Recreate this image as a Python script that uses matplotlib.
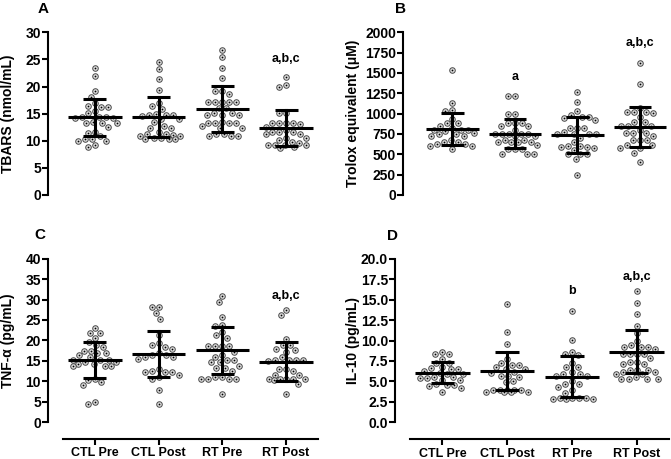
import numpy as np
import matplotlib.pyplot as plt

plt.rcParams['font.family'] = ['Liberation Sans', 'DejaVu Sans']
plt.rcParams['font.weight'] = 'bold'

groups = ['CTL Pre', 'CTL Post', 'RT Pre', 'RT Post']

# Panel A - TBARS
tbars_ctl_pre = [23.4, 21.9, 19.2, 18.1, 17.0, 16.4, 16.3, 16.2, 15.4, 15.1, 14.3, 14.3, 14.3, 14.2, 14.2,
                 13.5, 13.3, 13.3, 13.2, 12.6, 11.6, 11.5, 10.8, 10.4, 10.3, 10.0, 10.0, 9.2, 8.9]
tbars_ctl_post = [24.6, 23.3, 21.3, 19.4, 17.0, 16.5, 15.8, 15.0, 14.8, 14.7, 14.7, 14.6, 14.0, 14.0, 13.5,
                  12.8, 12.4, 12.4, 11.6, 11.2, 11.2, 11.1, 10.8, 10.8, 10.6, 10.5, 10.4, 10.4, 10.3]
tbars_rt_pre = [26.7, 25.4, 23.4, 21.5, 19.2, 19.2, 18.7, 17.2, 17.2, 17.2, 17.2, 17.1, 16.0, 16.0, 15.2, 15.2,
                14.8, 14.8, 14.8, 13.5, 13.2, 13.2, 13.2, 13.2, 12.7, 12.3, 12.3, 11.2, 11.2, 10.8, 10.8, 10.8]
tbars_rt_post = [21.8, 20.2, 19.9, 15.1, 15.1, 13.3, 13.2, 13.2, 13.2, 13.1, 12.6, 12.0, 11.7, 11.7, 11.7,
                 11.2, 11.2, 10.6, 10.6, 10.2, 9.8, 9.5, 9.3, 9.2, 9.2, 9.2, 8.8, 8.6]
tbars_mean = [14.3, 14.4, 15.9, 12.3]
tbars_sd = [3.4, 3.7, 4.2, 3.35]

# Panel B - Trolox equivalent
trolox_ctl_pre = [1540, 1130, 1040, 1030, 940, 880, 880, 850, 820, 800, 800, 800, 790, 760, 750, 750, 720, 720,
                  680, 650, 650, 630, 630, 600, 600, 560]
trolox_ctl_post = [1215, 1215, 1000, 1000, 890, 890, 890, 850, 850, 800, 750, 750, 750, 750, 750, 720, 720,
                   680, 680, 650, 650, 650, 650, 620, 560, 560, 560, 510, 500, 500]
trolox_rt_pre = [1270, 1140, 1030, 980, 960, 960, 950, 920, 820, 820, 820, 780, 750, 750, 750, 750, 700, 650,
                 600, 600, 590, 590, 580, 550, 510, 500, 500, 440, 240]
trolox_rt_post = [1620, 1360, 1070, 1020, 1020, 1020, 1010, 960, 900, 900, 850, 850, 850, 800, 760, 760, 760,
                  720, 670, 670, 670, 610, 610, 580, 580, 520, 400]
trolox_mean = [811, 754, 742, 836]
trolox_sd = [200, 180, 222, 250]

# Panel C - TNF-alpha
tnf_ctl_pre = [23.1, 21.8, 21.8, 20.6, 19.5, 18.8, 18.3, 17.5, 17.5, 16.8, 16.8, 16.3, 15.8, 15.2, 15.2, 15.2,
               14.6, 14.6, 14.2, 14.2, 13.8, 13.8, 13.8, 10.6, 10.2, 9.7, 9.0, 4.8, 4.3]
tnf_ctl_post = [28.2, 28.2, 26.6, 25.2, 21.2, 19.4, 18.8, 18.4, 18.0, 17.0, 16.5, 16.5, 16.0, 16.0, 15.5,
                12.9, 12.6, 12.2, 12.2, 12.2, 11.4, 11.0, 10.5, 7.9, 4.3]
tnf_rt_pre = [30.9, 29.4, 25.8, 23.8, 23.4, 22.0, 21.2, 20.6, 18.6, 18.6, 18.6, 18.6, 17.2, 16.4, 16.0, 15.2,
              15.2, 14.6, 14.6, 13.8, 13.2, 13.2, 12.6, 11.0, 11.0, 10.5, 10.5, 10.5, 10.5, 6.9]
tnf_rt_post = [27.4, 26.3, 20.3, 18.8, 18.8, 18.0, 17.6, 17.2, 15.8, 15.2, 15.2, 15.2, 15.2, 14.9, 13.0, 13.0,
               12.5, 11.6, 11.6, 10.6, 10.6, 10.6, 10.6, 10.6, 10.3, 9.3, 6.8]
tnf_mean = [15.3, 16.7, 17.6, 14.8]
tnf_sd = [4.4, 5.7, 5.75, 4.7]

# Panel D - IL-10
il10_ctl_pre = [8.6, 8.3, 8.3, 7.7, 7.3, 7.3, 6.8, 6.6, 6.5, 6.5, 6.3, 6.0, 5.9, 5.9, 5.5, 5.5, 5.4, 5.4,
                5.2, 5.2, 4.7, 4.6, 4.6, 4.4, 4.2, 3.7]
il10_ctl_post = [14.5, 11.0, 9.6, 7.7, 7.3, 7.0, 7.0, 6.7, 6.5, 6.5, 6.2, 6.0, 5.7, 5.7, 5.5, 5.0, 4.9,
                 3.9, 3.9, 3.9, 3.9, 3.9, 3.7, 3.7, 3.7, 3.7]
il10_rt_pre = [13.6, 10.1, 8.6, 8.4, 8.2, 7.2, 6.7, 6.7, 6.2, 5.9, 5.9, 5.6, 5.6, 5.0, 4.7, 4.7, 4.3, 3.9,
               3.6, 3.0, 3.0, 3.0, 3.0, 2.8, 2.8, 2.8]
il10_rt_post = [16.1, 14.6, 13.2, 11.8, 10.9, 9.9, 9.4, 9.2, 9.2, 9.2, 8.9, 8.3, 8.3, 8.3, 8.3, 7.8, 7.4,
                7.4, 7.1, 7.1, 6.4, 6.4, 6.4, 6.1, 6.1, 5.9, 5.9, 5.5, 5.3, 5.3, 5.3, 5.3]
il10_mean = [6.07, 6.27, 5.58, 8.64]
il10_sd = [1.26, 2.35, 2.5, 2.65]

W, H = 671, 459
fig = plt.figure(figsize=(W / 100, H / 100), dpi=100)


def swarm(vals, xpx, ypx, d=7.0, half=22.0):
    # beeswarm limited to +-half px: best spacing, then closest to centre
    vals = np.asarray(vals, dtype=float)
    order = np.argsort(-vals)
    ys = vals * ypx
    grid = np.arange(-half, half + 0.01, 0.5)
    px_list, py_list = [], []
    offs = np.zeros(len(vals))
    for i in order:
        y = ys[i]
        if px_list:
            pxa = np.array(px_list)
            pya = np.array(py_list)
            dist = np.sqrt((grid[:, None] - pxa[None, :]) ** 2 + (y - pya[None, :]) ** 2).min(axis=1)
            score = np.minimum(dist, d) - 0.001 * np.abs(grid)
            c = grid[np.argmax(score)]
        else:
            c = 0.0
        px_list.append(c)
        py_list.append(y)
        offs[i] = c / xpx
    return offs


def panel(rect_px, data, means, sds, ymax, ystep, fmt, ylabel, label_x, letter, letter_pos,
          notes, show_x, left_off):
    l, r, top, bot = rect_px
    ax = fig.add_axes([l / W, 1 - bot / H, (r - l) / W, (bot - top) / H])
    ax.set_xlim(-0.5, 3.5)
    ax.set_ylim(0, ymax)
    xpx = (r - l) / 4
    ypx = (bot - top) / ymax
    for i, vals in enumerate(data):
        offs = swarm(vals, xpx, ypx)
        ax.scatter(i + offs, vals, s=16, facecolor='#dcdcdc', edgecolor='#4a4a4a',
                   linewidth=0.7, zorder=2, clip_on=False)
        ax.scatter(i + offs, vals, s=1.6, color='black', zorder=3, clip_on=False, linewidth=0)
        m, sd = means[i], sds[i]
        ax.plot([i - 0.42, i + 0.42], [m, m], color='black', lw=2.2, zorder=4, solid_capstyle='butt')
        ax.plot([i, i], [m - sd, m + sd], color='black', lw=2.2, zorder=4)
        for yy in (m - sd, m + sd):
            ax.plot([i - 0.18, i + 0.18], [yy, yy], color='black', lw=2.2, zorder=4,
                    solid_capstyle='butt')
    for gi, txt, yv in notes:
        ax.text(gi, yv, txt, ha='center', va='center', fontsize=9, fontweight='bold')
    yt = np.arange(0, ymax + ystep / 2, ystep)
    ax.set_yticks(yt)
    ax.set_yticklabels([fmt % v for v in yt], fontsize=9.5, fontweight='bold')
    ax.spines['top'].set_visible(False)
    ax.spines['right'].set_visible(False)
    ax.spines['left'].set_position(('outward', left_off * 0.72))
    ax.spines['left'].set_linewidth(1.5)
    ax.tick_params(axis='y', width=1.5, length=4, pad=1)
    if show_x:
        ax.spines['bottom'].set_position(('outward', 17 * 0.72))
        ax.spines['bottom'].set_linewidth(1.5)
        ax.set_xticks(range(4))
        ax.set_xticklabels(groups, fontsize=9, fontweight='bold')
        ax.tick_params(axis='x', width=1.5, length=4, pad=2)
    else:
        ax.spines['bottom'].set_visible(False)
        ax.set_xticks([])
    ax.set_ylabel(ylabel, fontsize=10, fontweight='bold')
    # label_x is the right edge of the rotated label in pixels
    ax.yaxis.set_label_coords((label_x - l) / (r - l), 0.5)
    fig.text(letter_pos[0] / W, 1 - letter_pos[1] / H, letter, fontsize=11, fontweight='bold',
             ha='center', va='center')
    return ax


panel((63, 318, 32.3, 195), [tbars_ctl_pre, tbars_ctl_post, tbars_rt_pre, tbars_rt_post],
      tbars_mean, tbars_sd, 30, 5, '%d', 'TBARS (nmol/mL)', 15, 'A', (43, 9),
      [(3, 'a,b,c', 25.0)], False, 15)
panel((421, 671, 32.3, 195), [trolox_ctl_pre, trolox_ctl_post, trolox_rt_pre, trolox_rt_post],
      trolox_mean, trolox_sd, 2000, 250, '%d', 'Trolox equivalent (μM)', 360, 'B', (400, 9),
      [(1, 'a', 1447), (3, 'a,b,c', 1865)], False, 18)
panel((63, 318, 258.7, 422), [tnf_ctl_pre, tnf_ctl_post, tnf_rt_pre, tnf_rt_post],
      tnf_mean, tnf_sd, 40, 5, '%d', 'TNF-α (pg/mL)', 15, 'C', (40, 235),
      [(3, 'a,b,c', 30.9)], True, 15)
panel((410, 669, 258.7, 422.3), [il10_ctl_pre, il10_ctl_post, il10_rt_pre, il10_rt_post],
      il10_mean, il10_sd, 20, 2.5, '%.1f', 'IL-10 (pg/mL)', 360, 'D', (392, 236),
      [(2, 'b', 16.05), (3, 'a,b,c', 17.76)], True, 15)

fig.savefig('out.png', dpi=100)
